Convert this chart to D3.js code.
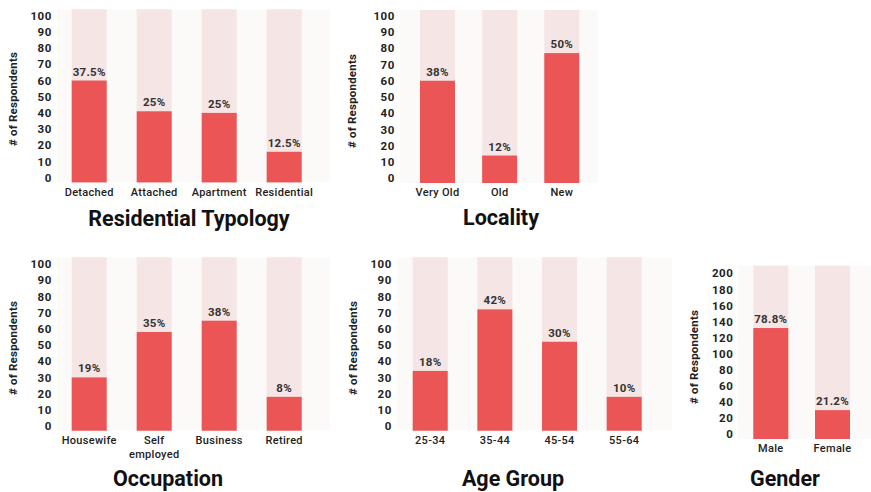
<!DOCTYPE html>
<html>
<head>
<meta charset="utf-8">
<script src="https://cdn.jsdelivr.net/npm/d3@7"></script>
<style>
  body { margin: 0; background: #fff; }
  svg { display: block; font-family: Roboto, "Noto Sans", "DejaVu Sans", sans-serif; }
</style>
</head>
<body>
<svg id="chart" width="871" height="492"></svg>
<script>
// ---- survey data (number of respondents per category) ----
const typologyCategories = ["Detached", "Attached", "Apartment", "Residential"];
const typologyCounts     = [60, 41, 40, 16];
const typologyShares     = ["37.5%", "25%", "25%", "12.5%"];

const localityCategories = ["Very Old", "Old", "New"];
const localityCounts     = [60, 14, 77];
const localityShares     = ["38%", "12%", "50%"];

const occupationCategories = ["Housewife", "Self employed", "Business", "Retired"];
const occupationCounts     = [30, 58, 65, 18];
const occupationShares     = ["19%", "35%", "38%", "8%"];

const ageCategories = ["25-34", "35-44", "45-54", "55-64"];
const ageCounts     = [34, 72, 52, 18];
const ageShares     = ["18%", "42%", "30%", "10%"];

const genderCategories = ["Male", "Female"];
const genderCounts     = [132, 30];
const genderShares     = ["78.8%", "21.2%"];

// tick values of the two kinds of count axes
const ticksTo100 = [0, 10, 20, 30, 40, 50, 60, 70, 80, 90, 100];
const ticksTo200 = [0, 20, 40, 60, 80, 100, 120, 140, 160, 180, 200];

// ---- panel layout ----
const panels = [
  { title: "Residential Typology", cats: typologyCategories, counts: typologyCounts, shares: typologyShares,
    ticks: ticksTo100, barL: 71.7, barR: 301.7, y0: 177.7, yTop: 15.7, trackTop: 9.3,
    tickX: 52, axisX: 13, axisY: 99, catY: 192, titleX: 189, titleY: 218, bgL: 57, bgR: 330 },
  { title: "Locality", cats: localityCategories, counts: localityCounts, shares: localityShares,
    ticks: ticksTo100, barL: 420, barR: 579.3, y0: 178.3, yTop: 15.7, trackTop: 10,
    tickX: 395, axisX: 352, axisY: 101, catY: 192, titleX: 501, titleY: 217, bgL: 400, bgR: 598 },
  { title: "Occupation", cats: occupationCategories, counts: occupationCounts, shares: occupationShares,
    ticks: ticksTo100, barL: 71.7, barR: 301.7, y0: 426, yTop: 264, trackTop: 257.3,
    tickX: 52, axisX: 13, axisY: 348, catY: 439.5, titleX: 168, titleY: 478.5, bgL: 57, bgR: 330 },
  { title: "Age Group", cats: ageCategories, counts: ageCounts, shares: ageShares,
    ticks: ticksTo100, barL: 412.7, barR: 641.7, y0: 426, yTop: 264, trackTop: 257.3,
    tickX: 392, axisX: 353, axisY: 348, catY: 439.5, titleX: 513, titleY: 478.5, bgL: 397, bgR: 672 },
  { title: "Gender", cats: genderCategories, counts: genderCounts, shares: genderShares,
    ticks: ticksTo200, barL: 753.3, barR: 850, y0: 434.3, yTop: 273.3, trackTop: 265.7,
    tickX: 733.5, axisX: 694, axisY: 357, catY: 448, titleX: 785, titleY: 478.5, bgL: 738, bgR: 871 }
];

const BAR_W = 35;          // bar thickness
const BASE_DROP = 4.7;     // bars sit slightly below the zero label
const COLORS = { bar: "#eb5555", track: "#f6e5e5", panel: "#fcf9f9", text: "#222", title: "#111" };

const svg = d3.select("#chart");

panels.forEach(p => {
  const n = p.cats.length;
  const maxTick = p.ticks[p.ticks.length - 1];

  const y = d3.scaleLinear().domain([0, maxTick]).range([p.y0, p.yTop]);
  // step chosen so every band is BAR_W wide and the outer bars touch barL / barR
  const step = n > 1 ? (p.barR - p.barL - BAR_W) / (n - 1) : BAR_W;
  const x = d3.scaleBand().domain(p.cats).range([p.barL, p.barR])
    .paddingInner(1 - BAR_W / step).paddingOuter(0);

  const base = y(0) + BASE_DROP;
  const g = svg.append("g");

  // faint plot area
  g.append("rect")
    .attr("x", p.bgL).attr("y", p.trackTop)
    .attr("width", p.bgR - p.bgL).attr("height", base - p.trackTop)
    .attr("fill", COLORS.panel);

  // background tracks
  g.selectAll("rect.track").data(p.cats).join("rect")
    .attr("class", "track")
    .attr("x", d => x(d)).attr("width", x.bandwidth())
    .attr("y", p.trackTop).attr("height", base - p.trackTop)
    .attr("fill", COLORS.track);

  // value bars
  g.selectAll("rect.bar").data(p.counts).join("rect")
    .attr("class", "bar")
    .attr("x", (d, i) => x(p.cats[i])).attr("width", x.bandwidth())
    .attr("y", d => y(d)).attr("height", d => base - y(d))
    .attr("fill", COLORS.bar);

  // percentage labels
  g.selectAll("text.share").data(p.counts).join("text")
    .attr("class", "share")
    .attr("x", (d, i) => x(p.cats[i]) + x.bandwidth() / 2)
    .attr("y", d => y(d) - 5)
    .attr("text-anchor", "middle")
    .attr("font-size", 11.5).attr("font-weight", 700).attr("letter-spacing", 0.3).attr("fill", "#333")
    .text((d, i) => p.shares[i]);

  // count axis
  const axis = g.append("g")
    .attr("transform", `translate(${p.tickX},0)`)
    .call(d3.axisLeft(y).tickValues(p.ticks).tickSize(0).tickPadding(0).tickFormat(d3.format("d")));
  axis.select(".domain").remove();
  axis.selectAll("text")
    .attr("font-family", "Roboto, 'Noto Sans', sans-serif")
    .attr("font-size", 11.5).attr("font-weight", 700).attr("letter-spacing", 0.6).attr("fill", COLORS.text);

  // axis title
  g.append("text")
    .attr("transform", `translate(${p.axisX},${p.axisY}) rotate(-90)`)
    .attr("text-anchor", "middle").attr("dominant-baseline", "central")
    .attr("font-size", 11.5).attr("font-weight", 700).attr("letter-spacing", 0.2).attr("fill", COLORS.text)
    .text("# of Respondents");

  // category labels (two-word labels wrap onto two lines)
  const cat = g.selectAll("text.cat").data(p.cats).join("text")
    .attr("class", "cat")
    .attr("x", d => x(d) + x.bandwidth() / 2)
    .attr("y", p.catY)
    .attr("text-anchor", "middle").attr("dominant-baseline", "central")
    .attr("font-size", 11).attr("font-weight", 500).attr("letter-spacing", 0.3).attr("fill", COLORS.text);
  cat.each(function(d) {
    const words = d === "Self employed" ? d.split(" ") : [d];
    const t = d3.select(this);
    words.forEach((w, i) => {
      t.append("tspan").attr("x", x(d) + x.bandwidth() / 2).attr("dy", i === 0 ? 0 : 14.5).text(w);
    });
  });

  // panel title
  g.append("text")
    .attr("x", p.titleX).attr("y", p.titleY)
    .attr("text-anchor", "middle").attr("dominant-baseline", "central")
    .attr("font-size", 21.5).attr("font-weight", 700).attr("fill", COLORS.title)
    .text(p.title);
});
</script>
</body>
</html>
